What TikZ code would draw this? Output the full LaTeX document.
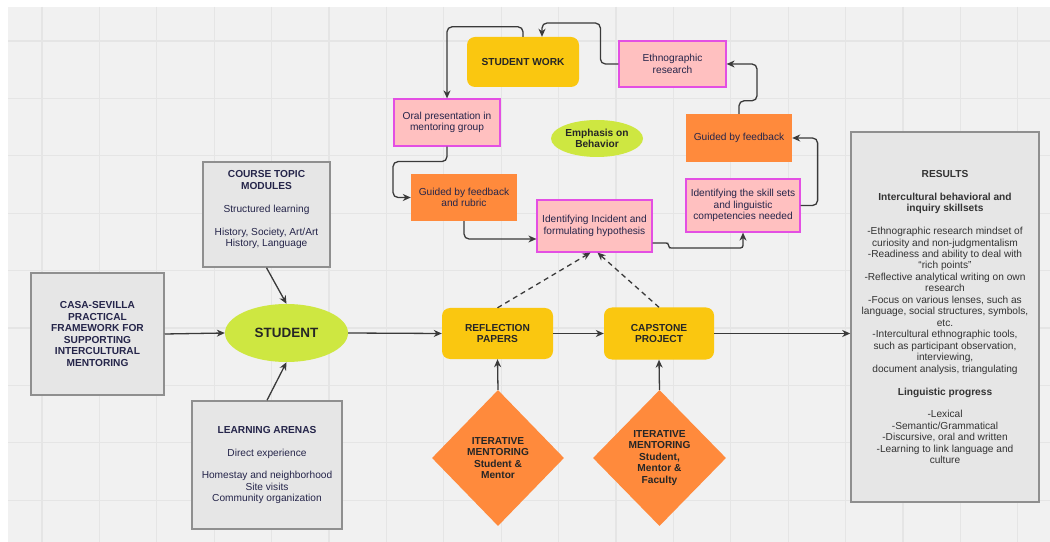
\documentclass[tikz,border=0pt]{standalone}
\usepackage{fontspec}
\setmainfont{Liberation Sans}
\usetikzlibrary{shapes.geometric,arrows.meta,calc}
\definecolor{panelc}{HTML}{F1F1F1}
\definecolor{gridc}{HTML}{E5E5E5}
\definecolor{yel}{HTML}{FAC710}
\definecolor{lime}{HTML}{CEE741}
\definecolor{pinkf}{HTML}{FFC0C0}
\definecolor{pinkb}{HTML}{E34FE3}
\definecolor{orng}{HTML}{FF8A3C}
\definecolor{grayf}{HTML}{E6E6E6}
\definecolor{grayb}{HTML}{8F8F8F}
\definecolor{navytxt}{HTML}{25254A}
\definecolor{restxt}{HTML}{333333}
\definecolor{linec}{HTML}{3A3A3A}
\newcommand\dfont{\fontsize{10.2}{11.5}\selectfont}
\begin{document}
\begin{tikzpicture}[x=1bp,y=-1bp,
  base/.style={inner sep=0pt, align=center, font=\dfont},
  graybox/.style={base, draw=grayb, line width=1.5bp, fill=grayf, text=navytxt},
  pinkbox/.style={base, draw=pinkb, line width=1.2bp, fill=pinkf, text=navytxt},
  orangebox/.style={base, fill=orng, text=navytxt},
  yelbox/.style={base, fill=yel, rounded corners=8bp, text=black!85, font=\dfont\bfseries},
  limeell/.style={base, ellipse, fill=lime, text=black!85, font=\dfont\bfseries},
  diam/.style={base, diamond, fill=orng, text=black!85, font=\dfont\bfseries},
  conn/.style={draw=linec, line width=1.3bp, rounded corners=5bp, -{Stealth[length=8bp,width=7bp,inset=2.5bp]}},
  dashconn/.style={conn, dash pattern=on 5bp off 4bp}
]
\useasboundingbox (0,0) rectangle (1050,542);
\fill[white] (0,0) rectangle (1050,542);
\fill[panelc] (8,7) rectangle (1050,542);
\foreach \i in {0,...,17} \draw[gridc, line width=1.2bp] ({42+57.4*\i},7) -- ({42+57.4*\i},542);
\foreach \j in {0,...,8} \draw[gridc, line width=1.2bp] (8,{41+57.4*\j}) -- (1050,{41+57.4*\j});

% upper cycle
\node[yelbox, minimum width=112bp, minimum height=50bp] (sw) at (523,62) {STUDENT WORK};
\node[pinkbox, minimum width=107bp, minimum height=46bp] (eth) at (672.5,64) {Ethnographic\\research};
\node[pinkbox, minimum width=106bp, minimum height=47bp] (oral) at (447,122.5) {Oral presentation in\\mentoring group};
\node[limeell, minimum width=92bp, minimum height=37bp] (emph) at (597,138.5) {Emphasis on\\Behavior};
\node[orangebox, minimum width=106bp, minimum height=48bp] (gfb) at (739,138) {Guided by feedback};
\node[orangebox, minimum width=106bp, minimum height=47bp] (gfr) at (464,197.5) {Guided by feedback\\and rubric};
\node[pinkbox, minimum width=115bp, minimum height=52bp] (inc) at (594.5,226) {Identifying Incident and\\formulating hypothesis};
\node[pinkbox, minimum width=114bp, minimum height=53bp] (skill) at (743,205.5) {Identifying the skill sets\\and linguistic\\competencies needed};

% lower row
\node[graybox, minimum width=127bp, minimum height=105bp] (course) at (266.5,214.5)
  {\textbf{COURSE TOPIC}\\\textbf{MODULES}\\[11.5bp]Structured learning\\[11.5bp]History, Society, Art/Art\\History, Language\\\mbox{}};
\node[graybox, minimum width=133bp, minimum height=122bp, font=\dfont\bfseries] (casa) at (97.5,334)
  {CASA-SEVILLA\\PRACTICAL\\FRAMEWORK FOR\\SUPPORTING\\INTERCULTURAL\\MENTORING};
\node[limeell, minimum width=123bp, minimum height=58bp, font=\fontsize{13.5}{15}\selectfont\bfseries] (student) at (286.5,333) {STUDENT};
\node[graybox, minimum width=150bp, minimum height=128bp] (arenas) at (267,465)
  {\textbf{LEARNING ARENAS}\\[11.5bp]Direct experience\\[11.5bp]Homestay and neighborhood\\Site visits\\Community organization};
\node[yelbox, minimum width=111bp, minimum height=51bp] (refl) at (497.5,333.5) {REFLECTION\\PAPERS};
\node[yelbox, minimum width=110bp, minimum height=52bp] (cap) at (659,333.5) {CAPSTONE\\PROJECT};
\node[graybox, text=restxt, minimum width=188bp, minimum height=370bp] (results) at (945,317)
  {\textbf{RESULTS}\\[11.5bp]\textbf{Intercultural behavioral and}\\\textbf{inquiry skillsets}\\[11.5bp]-Ethnographic research mindset of\\curiosity and non-judgmentalism\\-Readiness and ability to deal with\\“rich points”\\-Reflective analytical writing on own\\research\\-Focus on various lenses, such as\\language, social structures, symbols,\\etc.\\-Intercultural ethnographic tools,\\such as participant observation,\\interviewing,\\document analysis, triangulating\\[11.5bp]\textbf{Linguistic progress}\\[11.5bp]-Lexical\\-Semantic/Grammatical\\-Discursive, oral and written\\-Learning to link language and\\culture};
\node[diam, minimum width=132bp, minimum height=136bp] (d1) at (498,458) {ITERATIVE\\MENTORING\\Student \&\\Mentor};
\node[diam, minimum width=133bp, minimum height=136bp] (d2) at (659.5,458) {ITERATIVE\\MENTORING\\Student,\\Mentor \&\\Faculty};

% cycle connectors
\draw[conn] (sw.north) -- ++(0,-10) -| (oral.north);
\draw[conn] (eth.west) -- ++(-18,0) -- ++(0,-41) -| ([xshift=19bp]sw.north);
\draw[conn] (oral.south) -- ++(0,15) -- ++(-54,0) |- (gfr.west);
\draw[conn] (gfr.south) |- ([yshift=-13bp]inc.west);
\draw[conn, rounded corners=2.5bp] ([yshift=-17bp]inc.east) -- ++(16,0) -- ++(0,5) -| (skill.south);
\draw[conn] (skill.east) -- ++(17,0) |- (gfb.east);
\draw[conn] (gfb.north) -- ++(0,-13) -- ++(18,0) |- (eth.east);

% lower connectors
\draw[conn] (course.south) -- (student.north);
\draw[conn] (arenas.north) -- (student.south);
\draw[conn] (casa.east) -- (student.west);
\draw[conn] (student.east) -- (refl.west);
\draw[conn] (refl.east) -- (cap.west);
\draw[conn] (cap.east) -- (cap.east -| results.west);
\draw[conn] (d1.north) -- (refl.south);
\draw[conn] (d2.north) -- (cap.south);
\draw[dashconn] (refl.north) -- ([xshift=-4bp]inc.south);
\draw[dashconn] (cap.north) -- ([xshift=3bp]inc.south);
\end{tikzpicture}
\end{document}
